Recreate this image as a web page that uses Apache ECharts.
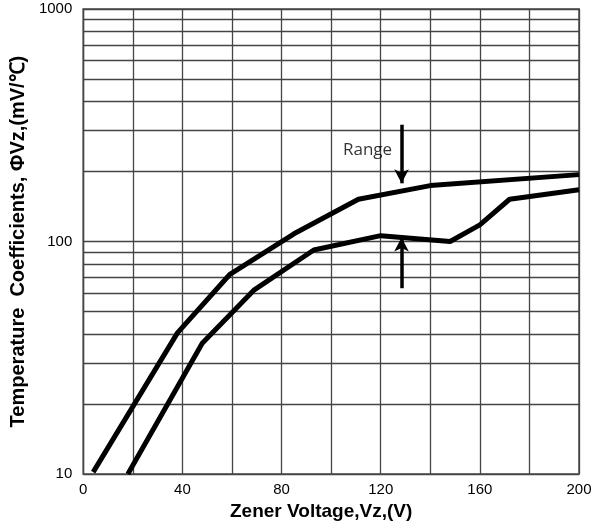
<!DOCTYPE html>
<html>
<head>
<meta charset="utf-8">
<script src="https://cdn.jsdelivr.net/npm/echarts@6/dist/echarts.min.js"></script>
<style>html,body{margin:0;padding:0;background:#fff;}#c{width:606px;height:526px;}</style>
</head>
<body>
<div id="c"></div>
<script>
// Data
const upperCurve = [[4,10.2],[38,40.5],[59,72],[85,108],[111,152],[140,174],[200,194]];
const lowerCurve = [[18,10],[48,36.5],[69,62],[93,92],[120,106],[148,100],[160,118],[172,152],[200,167]];
const minorGridValues = [20,30,40,50,60,70,80,90,200,300,400,500,600,700,800,900];
const arrowDown = [[128.4,318],[128.4,178]];
const arrowUp = [[128.4,63],[128.4,104]];
const rangeLabel = [[114.7,246]];
const xLabelValues = [0,40,80,120,160,200];

const chart = echarts.init(document.getElementById('c'), null, {renderer:'canvas'});
const gridColor = '#444';
chart.setOption({
  animation:false,
  grid:{left:77,right:27,top:9,bottom:51,show:true,borderColor:'#777',borderWidth:2},
  xAxis:{
    type:'value',min:0,max:200,interval:20,
    name:'Zener Voltage,Vz,(V)',nameLocation:'middle',nameGap:26,
    nameTextStyle:{fontFamily:'Liberation Sans',fontWeight:'bold',fontSize:19,color:'#000',padding:[0,20,0,0]},
    axisLine:{show:false},axisTick:{show:false},
    axisLabel:{margin:8,fontFamily:'Liberation Sans',fontSize:15,color:'#000',
      formatter:v=> xLabelValues.indexOf(v)>=0 ? String(v) : ''},
    splitLine:{show:true,lineStyle:{color:gridColor,width:1.3}}
  },
  yAxis:{
    type:'log',logBase:10,min:10,max:1000,
    name:'Temperature  Coefficients, ΦVz,(mV/℃)',nameLocation:'middle',nameGap:44,
    nameTextStyle:{fontFamily:'Liberation Sans',fontWeight:'bold',fontSize:20,color:'#000'},
    axisLine:{show:false},axisTick:{show:false},
    axisLabel:{margin:11,fontFamily:'Liberation Sans',fontSize:15,color:'#000',formatter:v=>String(Math.round(v))},
    splitLine:{show:true,lineStyle:{color:gridColor,width:1.3}}
  },
  series:[
    {type:'line',data:upperCurve,symbol:'none',lineStyle:{color:'#000',width:5},z:5,
     markLine:{silent:true,symbol:'none',label:{show:false},animation:false,
       lineStyle:{color:gridColor,width:1.3,type:'solid'},
       data:minorGridValues.map(v=>({yAxis:v}))}},
    {type:'line',data:lowerCurve,symbol:'none',lineStyle:{color:'#000',width:5},z:5},
    {type:'line',data:[],symbol:'none',
     markLine:{silent:true,symbol:['none','arrow'],symbolSize:[11,14],label:{show:false},animation:false,
       lineStyle:{color:'#000',width:3.5,type:'solid'},
       data:[
         [{coord:arrowDown[0]},{coord:arrowDown[1]}],
         [{coord:arrowUp[0]},{coord:arrowUp[1]}]
       ]}},
    {type:'scatter',data:rangeLabel,symbolSize:0,
     label:{show:true,position:'inside',formatter:'Range',fontFamily:'Open Sans',fontSize:17,color:'#000'}}
  ]
});
</script>
</body>
</html>
